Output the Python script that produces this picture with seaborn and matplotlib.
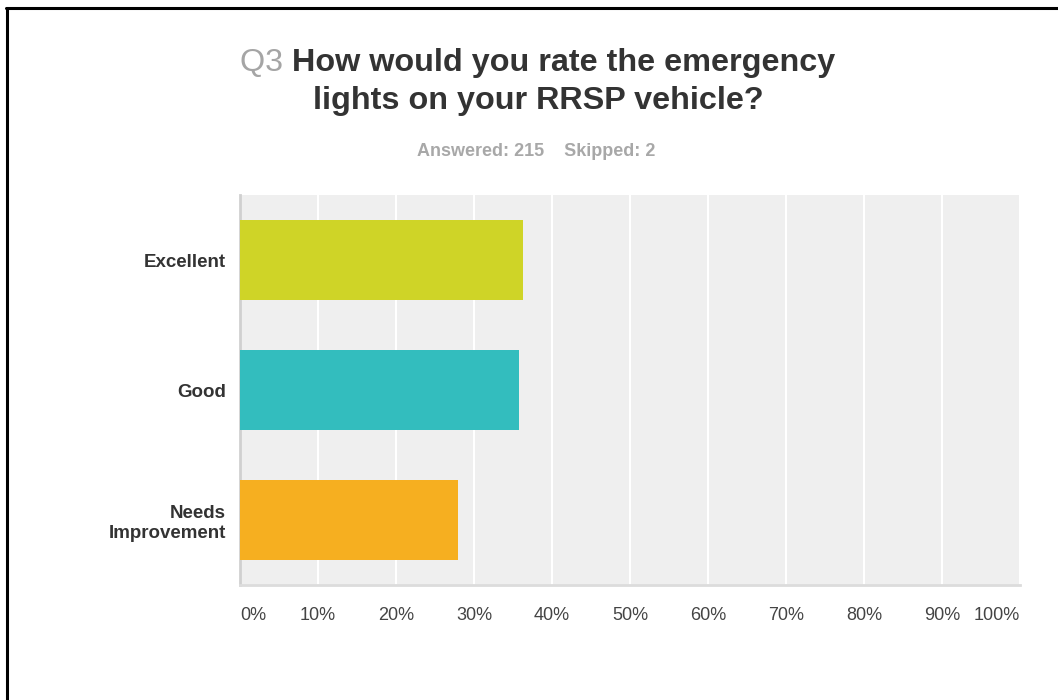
import matplotlib
matplotlib.use("Agg")
import matplotlib.pyplot as plt
import seaborn as sns
import pandas as pd
from matplotlib.lines import Line2D

categories = ["Excellent", "Good", "Needs\nImprovement"]
percentages = [36.28, 35.81, 27.91]
colors = ["#cfd427", "#33bdbe", "#f6af20"]
xticks = [0, 10, 20, 30, 40, 50, 60, 70, 80, 90, 100]
xticklabels = [f"{v}%" for v in xticks]

sns.set_theme(style="white")
plt.rcParams['font.family'] = ['Liberation Sans', 'DejaVu Sans']

df = pd.DataFrame({"category": categories, "pct": percentages})

W, H = 1058, 700
fig = plt.figure(figsize=(W/100, H/100), dpi=100)
ax = fig.add_axes([240/W, 1-585/H, 780/W, 390/H])
ax.set_facecolor("#efefef")

sns.barplot(data=df, y="category", x="pct", hue="category", palette=colors,
            order=categories, hue_order=categories, width=0.62, legend=False,
            saturation=1, linewidth=0, ax=ax, zorder=3)

ax.set_xlim(0, 100)
ax.set_xticks(xticks)
ax.set_xticklabels(xticklabels, fontsize=13, color="#444444")
xl = ax.get_xticklabels()
xl[0].set_ha("left")
xl[-1].set_ha("right")
ax.set_xlabel("")
ax.set_ylabel("")
for lbl in ax.get_yticklabels():
    lbl.set_fontweight("bold")
    lbl.set_fontsize(13.5)
    lbl.set_color("#333333")
    lbl.set_multialignment("right")
ax.tick_params(axis="x", length=0, pad=16)
ax.tick_params(axis="y", length=0, pad=10)
ax.xaxis.grid(True, color="white", linewidth=1.5, zorder=0)
ax.set_axisbelow(True)
ax.yaxis.grid(False)
for s in ["top", "right"]:
    ax.spines[s].set_visible(False)
ax.spines["left"].set_color("#d0d0d0")
ax.spines["left"].set_linewidth(2)
ax.spines["bottom"].set_color("#dcdcdc")
ax.spines["bottom"].set_linewidth(2)

# Title
ts = 23.3
t1 = fig.text(0, 1-63/H, "Q3 ", ha="left", va="center", fontsize=ts,
              color="#a5a5a5")
t2 = fig.text(0, 1-63/H, "How would you rate the emergency", ha="left",
              va="center", fontsize=ts, fontweight="bold", color="#333333")
fig.canvas.draw()
w1 = t1.get_window_extent().width
w2 = t2.get_window_extent().width
x0 = 538 - (w1 + w2) / 2
t1.set_x(x0 / W)
t2.set_x((x0 + w1) / W)
fig.text(538/W, 1-101/H, "lights on your RRSP vehicle?", ha="center",
         va="center", fontsize=ts, fontweight="bold", color="#333333")
fig.text(536/W, 1-152/H, "Answered: 215    Skipped: 2", ha="center",
         va="center", fontsize=13, fontweight="bold", color="#a8a8a8")

# Frame
fig.add_artist(Line2D([6.5/W, 6.5/W], [0, 1-8/H], color="black",
                      linewidth=2.2, transform=fig.transFigure))
fig.add_artist(Line2D([5.5/W, 1], [1-8/H, 1-8/H], color="black",
                      linewidth=2.2, transform=fig.transFigure))

fig.savefig("out.png", dpi=100, facecolor="white")
